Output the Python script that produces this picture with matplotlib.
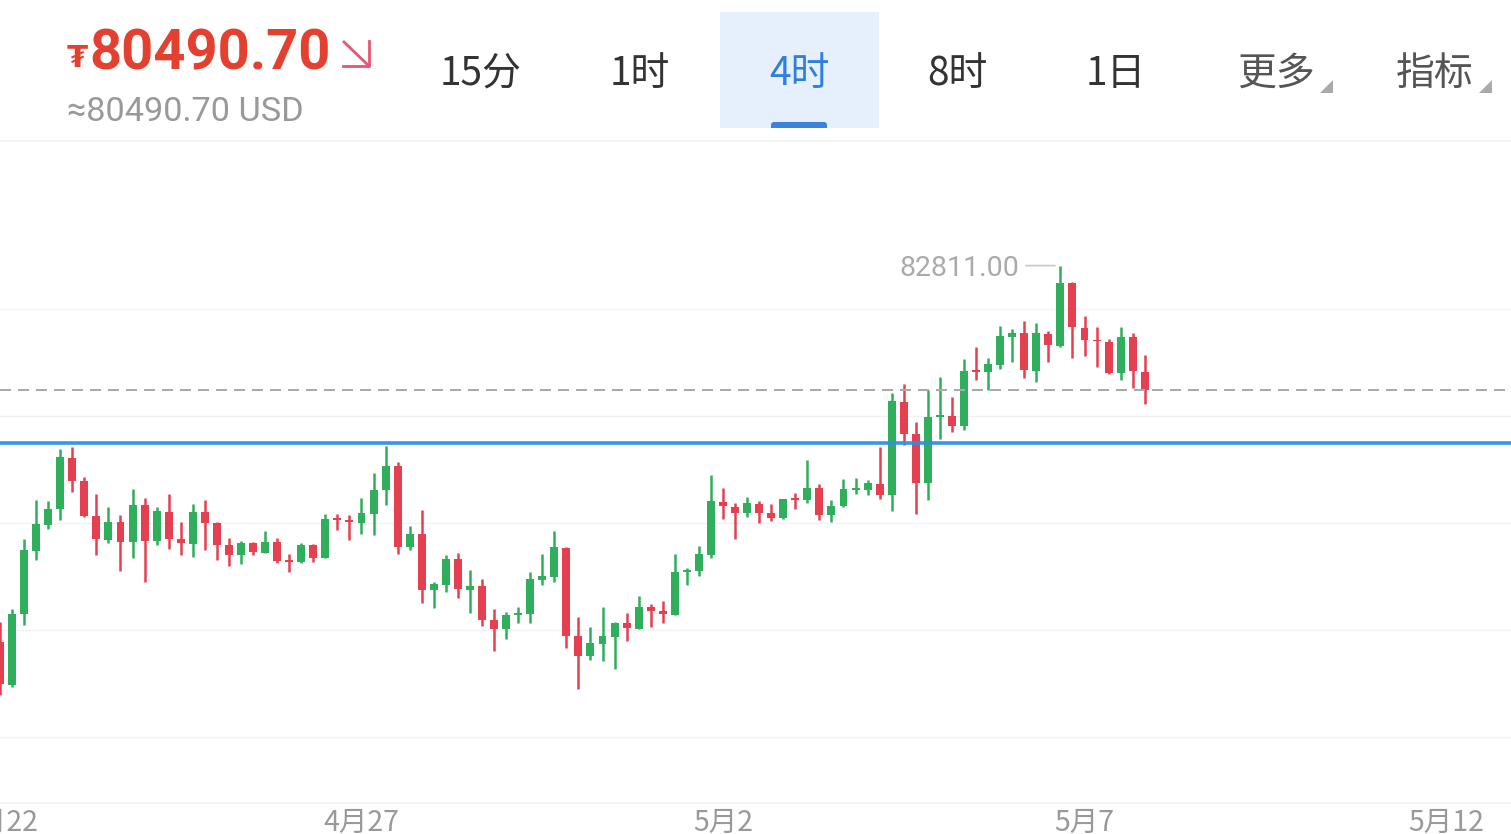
import matplotlib
matplotlib.use("Agg")
import matplotlib.pyplot as plt
from matplotlib.patches import Rectangle, Polygon, FancyBboxPatch
from matplotlib.lines import Line2D

plt.rcParams['font.family'] = ['Noto Sans CJK SC', 'DejaVu Sans']

# ---------- data ----------
price_text = "80490.70"
usd_text = "≈80490.70 USD"
max_text = "82811.00"
current_price = 80490.7
blue_level = 79500
grid_levels = [82000, 80000, 78000, 76000, 74000]

date_ticks = [0, 30, 60, 90, 120]
date_labels = ["4月22", "4月27", "5月2", "5月7", "5月12"]
tab_labels = ["15分", "1时", "4时", "8时", "1日", "更多", "指标"]

highs = [76156,76393,77695,78430,78405,79384,79427,78866,78542,78306,78144,78630,78474,78293,78536,78013,
         78355,78430,78019,77726,77658,77651,77845,77714,77415,77620,77608,78169,78169,78150,78474,78941,
         79446,79140,77938,78243,76891,77402,77446,77122,76954,76387,76337,76437,77085,77421,77857,77546,
         76244,76057,76424,76144,76324,76636,76480,76542,77421,77165,77570,78891,78648,78368,78486,78418,
         78355,78455,78567,79178,78723,78424,78817,78848,78810,79414,80424,80592,79882,80486,80735,80355,
         81059,81290,81078,81682,81626,81782,81732,81589,82811,82498,81869,81657,81433,81657,81558,81134]
lows = [74786,74941,76094,77309,77882,78056,78574,78106,77402,77620,77109,77346,76898,77596,77508,77408,
        77358,77496,77309,77197,77234,77402,77440,77259,77085,77259,77278,77340,77870,77683,77789,77776,
        78337,77421,77496,76511,76418,76717,76592,76318,76069,75614,75832,76138,76138,76848,76904,75658,
        74904,75440,75427,75272,75801,76013,76063,76137,76275,76835,77004,77352,78075,77701,78106,77994,
        78044,78075,78262,78368,78063,78025,78305,78549,78524,78443,78224,79458,78169,78436,79564,79701,
        79745,80673,80486,80879,81003,80710,80636,81016,81283,81084,81122,80922,80791,80673,80524,80225]
opens = [75782,74972,76293,77483,77963,78256,79215,78792,78131,77683,78013,77639,78337,77658,78212,77701,
         77614,78200,78000,77583,77396,77627,77446,77645,77303,77265,77589,77346,78094,78050,78000,78175,
         78611,79066,77546,77789,76748,76842,77321,76754,76823,76187,76013,76287,76293,76935,76991,77540,
         75882,75508,75745,75876,76125,76019,76424,76356,76287,77078,77097,77408,78399,78305,78181,78362,
         78187,78087,78474,78430,78654,78150,78312,78611,78617,78729,78524,80268,79657,78748,79987,80000,
         79807,80853,80816,80960,81483,81545,80841,81533,81315,82480,81651,81427,81389,80798,81471,80823]
closes = [74991,76300,77496,77982,78268,79228,78792,78131,77701,78019,77651,78343,77670,78225,77701,77620,
          78206,78007,77589,77402,77633,77452,77651,77284,77272,77596,77352,78075,78056,78013,78181,78623,
          79072,77558,77795,76754,76854,77334,76767,76829,76194,76019,76287,76325,76954,77010,77552,75895,
          75521,75758,75888,76137,76032,76424,76356,76300,77085,77122,77421,78405,78312,78187,78374,78187,
          78094,78449,78436,78654,78156,78324,78629,78648,78742,78530,80274,79664,78754,79987,80019,79819,
          80841,80816,80972,81489,81558,80853,81545,81333,82486,81657,81414,81402,80804,81483,80835,80490.7]

# ---------- colours ----------
GREEN = "#2FAE5C"
RED = "#E5404F"
W, H = 1511, 834

fig = plt.figure(figsize=(W / 100, H / 100), dpi=100, facecolor="white")

# chart area: pixel rows 141..803
ax = fig.add_axes([0, 1 - 803 / H, 1, (803 - 141) / H])
px_price = 18.69
ax.set_ylim(82000 - (803 - 309) * px_price, 82000 + (309 - 141) * px_price)
ax.set_xlim(0, W / 12.05)
for s in ("left", "right"):
    ax.spines[s].set_visible(False)
for s in ("top", "bottom"):
    ax.spines[s].set_color("#F0F0F0")
    ax.spines[s].set_linewidth(1.2)
ax.set_yticks([])
ax.set_xticks(date_ticks)
ax.set_xticklabels(date_labels, fontsize=20.5, color="#999999", clip_on=False)
ax.tick_params(axis="x", length=0, pad=3.5)
for g in grid_levels:
    ax.axhline(g, color="#F2F2F2", lw=1, zorder=1)

xs = list(range(len(opens)))
for x, o, c, hi, lo in zip(xs, opens, closes, highs, lows):
    col = GREEN if c >= o else RED
    ax.vlines(x, lo, hi, color=col, lw=1.8, zorder=2)
    ax.bar(x, abs(c - o), bottom=min(o, c), width=0.66, color=col, linewidth=0, zorder=3)

ax.axhline(current_price, color="#AAAAAA", lw=1.44, dashes=(5.5, 3.5), zorder=4)
ax.axhline(blue_level, color="#2E90E6", lw=2.6, alpha=0.95, zorder=5)

# highest-price marker
imax = highs.index(max(highs))
ax.annotate(max_text, xy=(imax - 0.4, highs[imax]), xytext=(-36, -3), textcoords="offset pixels",
            ha="right", va="center", fontsize=20.5, color="#AAAAAA", family="Roboto", zorder=6)
ax.annotate("", xy=(imax - 0.45, highs[imax]), xytext=(-29, 0), textcoords="offset pixels",
            arrowprops=dict(arrowstyle="-", color="#C8C8C8", lw=1.2, shrinkA=0, shrinkB=0), zorder=6)

# header overlay in pixel coordinates
ov = fig.add_axes([0, 0, 1, 1], facecolor="none", zorder=10)
ov.set_xlim(0, W)
ov.set_ylim(H, 0)
ov.axis("off")

ov.text(67, 58, "₮", fontsize=22, fontweight="bold", color="#E4402F",
        family=["DejaVu Sans"], ha="left", va="center")
ov.text(89, 54, price_text, fontsize=40.3, fontweight="bold", color="#E4402F",
        family="Roboto", ha="left", va="center")
ov.text(67, 112, usd_text, fontsize=24.7, color="#999999", family="Roboto", ha="left", va="center")
ov.add_line(Line2D([344, 369], [42, 66], color="#E85570", lw=2))
ov.add_line(Line2D([369, 369, 343], [41, 66, 66], color="#E85570", lw=2))

tab_bg = Rectangle((720, 12), 159, 116, facecolor="#E6F0FC", edgecolor="none")
ov.add_patch(tab_bg)
marker = FancyBboxPatch((774, 125), 50, 6, boxstyle="round,pad=3", facecolor="#3B82DC", edgecolor="none")
ov.add_patch(marker)
marker.set_clip_path(tab_bg)

tab_centers = [481, 640, 799, 957, 1116, 1276, 1435]
tab_colors = ["#333333", "#333333", "#2F7FE0", "#333333", "#333333", "#555555", "#555555"]
for label, cx, col in zip(tab_labels, tab_centers, tab_colors):
    ov.text(cx, 73.5, label, fontsize=28, color=col, ha="center", va="center")

for rx in (1333, 1492):
    ov.add_patch(Polygon([(rx, 80), (rx, 93), (rx - 13, 93)], closed=True,
                         facecolor="#AAAAAA", edgecolor="none"))

fig.savefig("out.png", dpi=100, facecolor="white")
